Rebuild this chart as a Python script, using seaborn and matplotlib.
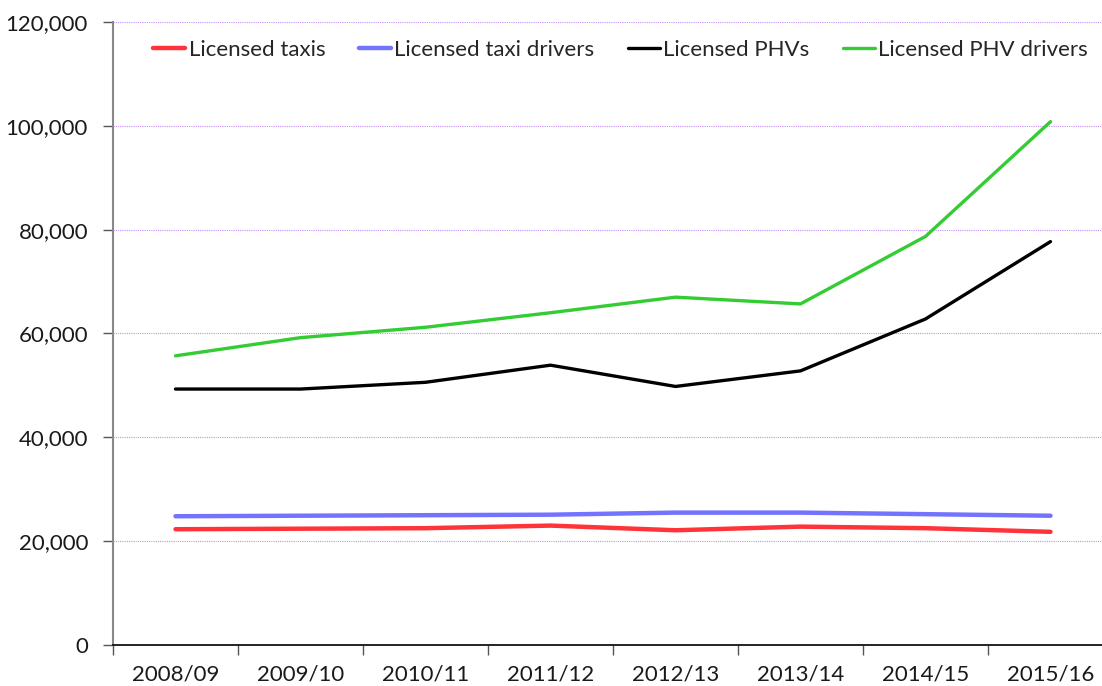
import matplotlib
matplotlib.use("Agg")
import matplotlib.pyplot as plt
import seaborn as sns
import pandas as pd
from matplotlib.ticker import FuncFormatter, MultipleLocator
from matplotlib.lines import Line2D

years = ["2008/09", "2009/10", "2010/11", "2011/12", "2012/13", "2013/14", "2014/15", "2015/16"]
licensed_taxis = [22300, 22400, 22500, 23000, 22100, 22800, 22500, 21800]
licensed_taxi_drivers = [24800, 24900, 25000, 25100, 25500, 25500, 25200, 24900]
licensed_phvs = [49300, 49300, 50600, 53900, 49800, 52800, 62800, 77700]
licensed_phv_drivers = [55700, 59200, 61200, 64000, 67000, 65700, 78700, 100800]

series_names = ["Licensed taxis", "Licensed taxi drivers", "Licensed PHVs", "Licensed PHV drivers"]
series_values = [licensed_taxis, licensed_taxi_drivers, licensed_phvs, licensed_phv_drivers]
colors = ["#FF3338", "#7373FF", "#000000", "#33CC33"]
widths = [3.2, 3.2, 2.4, 2.4]

rows = []
for name, vals in zip(series_names, series_values):
    for i, v in enumerate(vals):
        rows.append({"year": i, "series": name, "value": v})
df = pd.DataFrame(rows)

sns.set_theme(style="white")
plt.rcParams["font.family"] = ["Lato", "DejaVu Sans"]

fig = plt.figure(figsize=(11.02, 6.86), dpi=100)
ax = fig.add_axes([113 / 1102, 1 - 645 / 686, 1000 / 1102, 623 / 686])

sns.lineplot(data=df, x="year", y="value", hue="series", hue_order=series_names,
             palette=colors, ax=ax, legend=False)
for line, lw in zip(ax.get_lines(), widths):
    line.set_linewidth(lw)
    line.set_solid_capstyle("round")
    line.set_solid_joinstyle("round")

ax.set_xlim(-0.5, 7.5)
ax.set_ylim(0, 120000)
ax.yaxis.set_major_locator(MultipleLocator(20000))
ax.yaxis.set_major_formatter(FuncFormatter(lambda v, p: f"{int(v):,}"))
ax.set_xticks(range(len(years)))
ax.set_xticklabels(years)
ax.set_xticks([i - 0.5 for i in range(len(years) + 1)], minor=True)
ax.tick_params(axis="x", which="major", length=0, pad=14, labelsize=16, colors="#1a1a1a")
ax.tick_params(axis="x", which="minor", length=7, width=1, color="#555555", bottom=True)
ax.tick_params(axis="y", which="major", length=7, width=1, color="#555555", left=True,
               labelsize=16, labelcolor="#1a1a1a", pad=11)
ax.set_xlabel("")
ax.set_ylabel("")

ax.grid(axis="y", color="#C58CF5", linestyle=(0, (1, 1)), linewidth=0.8)
ax.set_axisbelow(True)
for s in ["top", "right"]:
    ax.spines[s].set_visible(False)
ax.spines["left"].set_color("#888888")
ax.spines["left"].set_linewidth(1.5)
ax.spines["bottom"].set_color("#000000")
ax.spines["bottom"].set_linewidth(1.2)

handles = [Line2D([0], [0], color=c, lw=lw, solid_capstyle="round") for c, lw in zip(colors, widths)]
ax.legend(handles, series_names, loc="upper left", bbox_to_anchor=(0.04, 0.971), ncol=4,
          frameon=False, fontsize=16, handlelength=1.45, handletextpad=0.15,
          columnspacing=1.5, borderpad=0, borderaxespad=0)

fig.savefig("out.png", dpi=100)
